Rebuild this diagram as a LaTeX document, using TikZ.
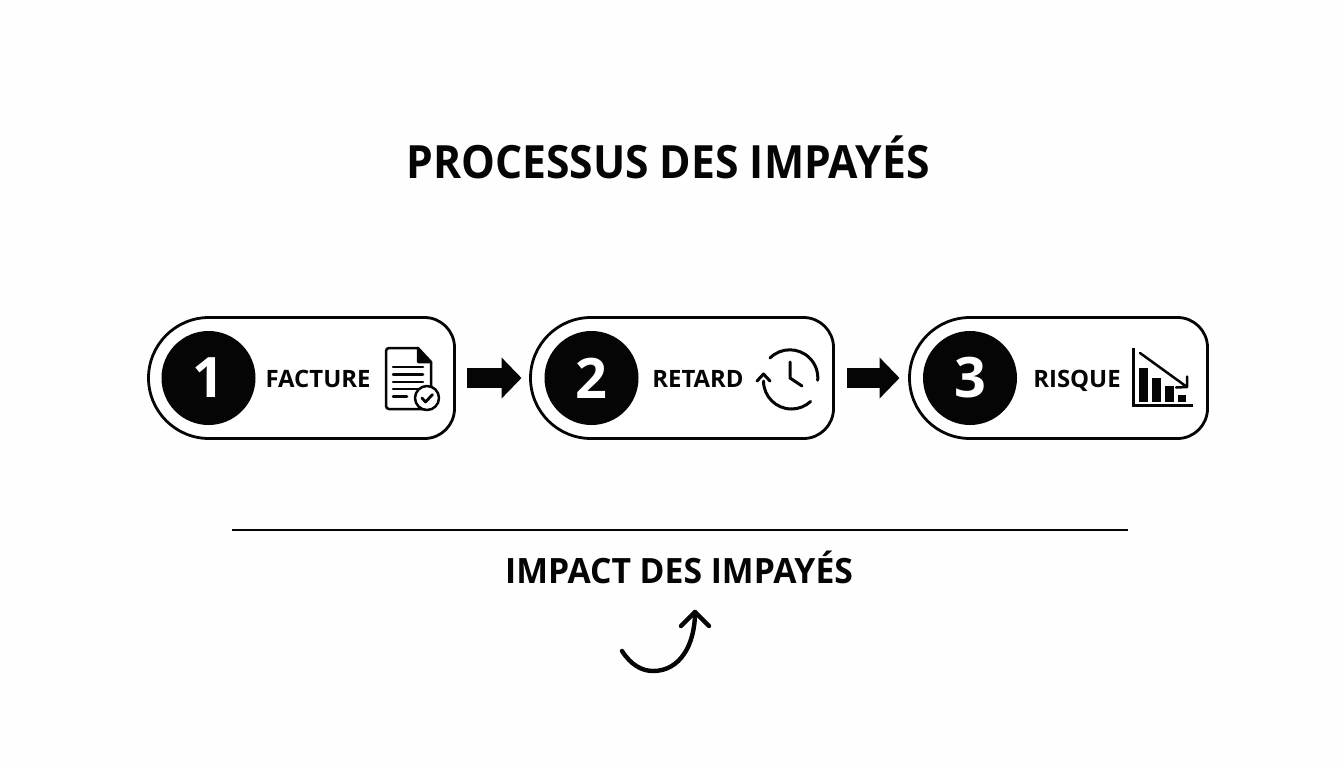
\documentclass[tikz,border=0pt]{standalone}
\usepackage{fontspec}
\setmainfont{Open Sans}
\newfontfamily\titlefont{Open Sans}[FakeStretch=0.93]
\newfontfamily\subfont{Open Sans}[FakeStretch=0.966]
\usetikzlibrary{arrows.meta}
\definecolor{ink}{HTML}{050505}
\definecolor{paper}{HTML}{FDFEFD}
\tikzset{
  stepbox/.style={minimum width=#1,minimum height=121bp,inner sep=0pt,outer sep=0pt},
  boxline/.style={draw=ink,line width=2.8bp,fill=white},
  numdisc/.style={circle,fill=ink,text=white,minimum size=94bp,inner sep=0pt,font=\fontsize{56}{56}\selectfont\bfseries},
  steplabel/.style={anchor=base,inner sep=0pt,text=ink,font=\fontsize{24}{24}\selectfont\bfseries},
  blockarrow/.style={draw=ink,line width=20bp,-{Triangle[length=20bp,width=40bp]}},
  icon/.style={draw=ink,line width=2.5bp,line cap=round,line join=round},
  titletext/.style={anchor=base,inner sep=0pt,text=ink,font=\titlefont\fontsize{46}{46}\selectfont\bfseries},
  subtext/.style={anchor=base,inner sep=0pt,text=ink,font=\subfont\fontsize{35}{35}\selectfont\bfseries},
}
\newcommand{\pillbox}[4]{%
  \node[stepbox=#4] (#1) at (#2,#3) {};
  \draw[boxline] ([xshift=60.5bp]#1.north west) -- ([xshift=-30bp]#1.north east)
    arc[start angle=90,end angle=0,radius=30bp] -- ([yshift=30bp]#1.south east)
    arc[start angle=0,end angle=-90,radius=30bp] -- ([xshift=60.5bp]#1.south west)
    arc[start angle=270,end angle=90,radius=60.5bp] -- cycle;
}
\begin{document}
\begin{tikzpicture}[x=1bp,y=-1bp]
\useasboundingbox (0,0) rectangle (1344,768);
\fill[paper] (0,0) rectangle (1344,768);

\node[titletext] (title) at (668,178) {PROCESSUS DES IMPAYÉS};

\pillbox{b1}{301.5}{378}{306bp}
\pillbox{b2}{682}{378}{303bp}
\pillbox{b3}{1058.5}{378}{298bp}

\node[numdisc] (n1) at (208.5,378) {1};
\node[numdisc] (n2) at (591.5,378) {2};
\node[numdisc] (n3) at (970,378) {3};

\node[steplabel] (l1) at (318,387) {FACTURE};
\node[steplabel] (l2) at (698,387) {RETARD};
\node[steplabel] (l3) at (1077,387) {RISQUE};

\draw[blockarrow] ([xshift=12.5bp]b1.east) -- ([xshift=-9bp]b2.west);
\draw[blockarrow] ([xshift=13.5bp]b2.east) -- ([xshift=-10bp]b3.west);

% document icon
\draw[icon,fill=white,rounded corners=3bp] (418,348) -- (386,348) -- (386,409) -- (431,409) -- (431,362);
\draw[icon,fill=ink] (418,348) -- (431,362) -- (418,362) -- cycle;
\draw[icon] (393,367) -- (423,367) (393,374.5) -- (423,374.5) (393,382) -- (423,382)
  (393,389) -- (420,389) (393,396.5) -- (407,396.5);
\draw[icon,fill=white] (427,398) circle[radius=12bp];
\draw[icon,line width=2.8bp] (422,398) -- (425.5,402) -- (432.5,394.5);

% clock icon
\draw[icon,line width=3bp] (770,358) arc[start angle=135,end angle=-5,radius=28bp];
\draw[icon,line width=3bp] (763.5,381) arc[start angle=180,end angle=313,radius=28bp];
\draw[icon,line width=3bp] (757,381) -- (763.5,374) -- (770,381);
\draw[icon,line width=3bp] (790,362) -- (790,378) -- (802,386);

% chart icon
\draw[icon,line cap=butt,line join=miter] (1133.5,348) -- (1133.5,405.5) -- (1193,405.5);
\fill[ink] (1139,368) rectangle (1147.5,402);
\fill[ink] (1152,378) rectangle (1161,402);
\fill[ink] (1165,386) rectangle (1173.5,402);
\fill[ink] (1177.5,395) rectangle (1186,402);
\draw[icon] (1140,353) -- (1187,387) (1176,387.5) -- (1187,387) -- (1187,376.5);

% rule and impact
\coordinate (ruleL) at (232,530);
\coordinate (ruleR) at (1128,530);
\draw[draw=ink,line width=2bp] (ruleL) -- (ruleR);
\node[subtext] (impact) at (679,583) {IMPACT DES IMPAYÉS};

\coordinate (cs) at (622,651);
\coordinate (ce) at (695,612);
\draw[draw=ink,line width=4.4bp,line cap=round,line join=round]
  (cs) .. controls (631,665) and (642,671) .. (653,671) .. controls (680,671) and (695,645) .. (ce);
\draw[draw=ink,line width=4.4bp,line cap=round,line join=round] (681,626) -- (ce) -- (709,626);
\end{tikzpicture}
\end{document}
